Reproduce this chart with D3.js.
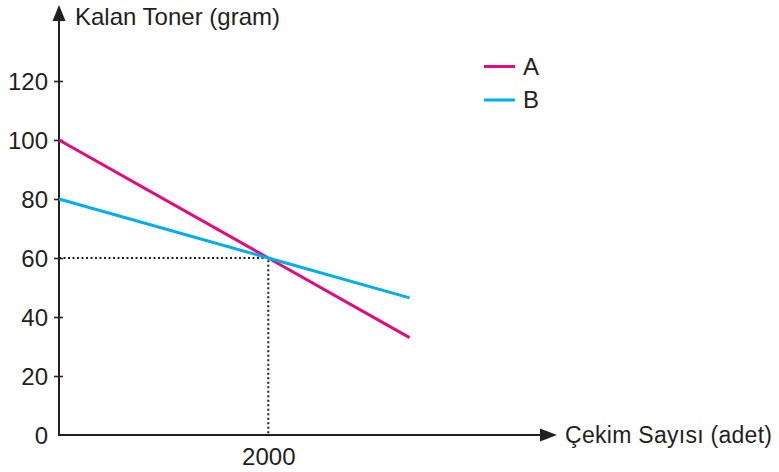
<!DOCTYPE html>
<html lang="en">
<head>
<meta charset="utf-8" />
<title>Kalan Toner</title>
<style>
html,body{margin:0;background:#fff}
svg text{font-family:"Liberation Sans",Arial,sans-serif;fill:#231f20}
</style>
<script src="https://cdn.jsdelivr.net/npm/d3@7/dist/d3.min.js"></script>
</head>
<body>
<div id="chart"></div>
<script>
/* ---------------- data ---------------- */
const seriesNames = ["A", "B"];
const xValues = [0, 2000, 3350];
const valuesA = [100, 60, 33];
const valuesB = [80, 60, 46.5];
const yTicks = [0, 20, 40, 60, 80, 100, 120];
const xTicks = [2000];
const colors = ["#e5097f", "#00aeef"];
const markX = 2000, markY = 60;

/* ---------------- setup ---------------- */
const width = 779, height = 472;
const ink = "#231f20";
const fs = 24;

const svg = d3.select("#chart").append("svg")
  .attr("width", width).attr("height", height);

const x = d3.scaleLinear().domain([0, 2000]).range([59, 268.3]);
const y = d3.scaleLinear().domain([0, 120]).range([435, 81]);

/* ---------------- axes ---------------- */
const yAxis = svg.append("g")
  .attr("transform", `translate(${x(0)},0)`)
  .call(d3.axisLeft(y).tickValues(yTicks).tickSize(5).tickFormat(d3.format("d")));
yAxis.select(".domain").remove();
yAxis.selectAll(".tick line").attr("x1", -5).attr("x2", 4)
  .attr("stroke", ink).attr("stroke-width", 1.6);
yAxis.selectAll(".tick text").attr("font-size", fs).attr("dy", "0.35em")
  .attr("x", -11);
yAxis.selectAll(".tick").filter(d => d === 0).select("line").remove();

const xAxis = svg.append("g")
  .attr("transform", `translate(0,${y(0)})`)
  .call(d3.axisBottom(x).tickValues(xTicks).tickSize(0).tickPadding(13)
    .tickFormat(d3.format("d")));
xAxis.select(".domain").remove();
xAxis.selectAll(".tick text").attr("font-size", fs).attr("dy", "0.71em");

// axis lines with arrows
svg.append("line").attr("x1", x(0)).attr("x2", x(0))
  .attr("y1", y(0) + 1).attr("y2", 18)
  .attr("stroke", ink).attr("stroke-width", 2);
svg.append("path")
  .attr("d", `M${x(0)},5 L${x(0) - 6.5},21 L${x(0) + 6.5},21 Z`)
  .attr("fill", ink);
svg.append("line").attr("x1", x(0) - 1).attr("x2", 545)
  .attr("y1", y(0)).attr("y2", y(0))
  .attr("stroke", ink).attr("stroke-width", 2);
svg.append("path")
  .attr("d", `M557,${y(0)} L540,${y(0) - 6.5} L540,${y(0) + 6.5} Z`)
  .attr("fill", ink);

svg.append("text").attr("x", 75).attr("y", 25)
  .attr("font-size", fs).text("Kalan Toner (gram)");
svg.append("text").attr("x", 565).attr("y", y(0) + 8)
  .attr("font-size", 23).attr("textLength", 207)
  .attr("lengthAdjust", "spacing").text("Çekim Sayısı (adet)");

/* ---------------- guide lines ---------------- */
svg.append("path")
  .attr("d", `M${x(0)},${y(markY)} H${x(markX)} V${y(0)}`)
  .attr("fill", "none").attr("stroke", ink)
  .attr("stroke-width", 2).attr("stroke-dasharray", "2,2.5");

/* ---------------- series ---------------- */
const line = d3.line().x((d, i) => x(xValues[i])).y(d => y(d));
[valuesA, valuesB].forEach((vals, i) => {
  svg.append("path").datum(vals)
    .attr("d", line)
    .attr("fill", "none")
    .attr("stroke", colors[i])
    .attr("stroke-width", 3);
});

/* ---------------- legend ---------------- */
const legend = svg.append("g");
seriesNames.forEach((name, i) => {
  const ly = 66.5 + i * 33.5;
  legend.append("line").attr("x1", 484).attr("x2", 515)
    .attr("y1", ly).attr("y2", ly)
    .attr("stroke", colors[i]).attr("stroke-width", 3);
  legend.append("text").attr("x", 523).attr("y", ly + 8)
    .attr("font-size", fs).text(name);
});
</script>
</body>
</html>
